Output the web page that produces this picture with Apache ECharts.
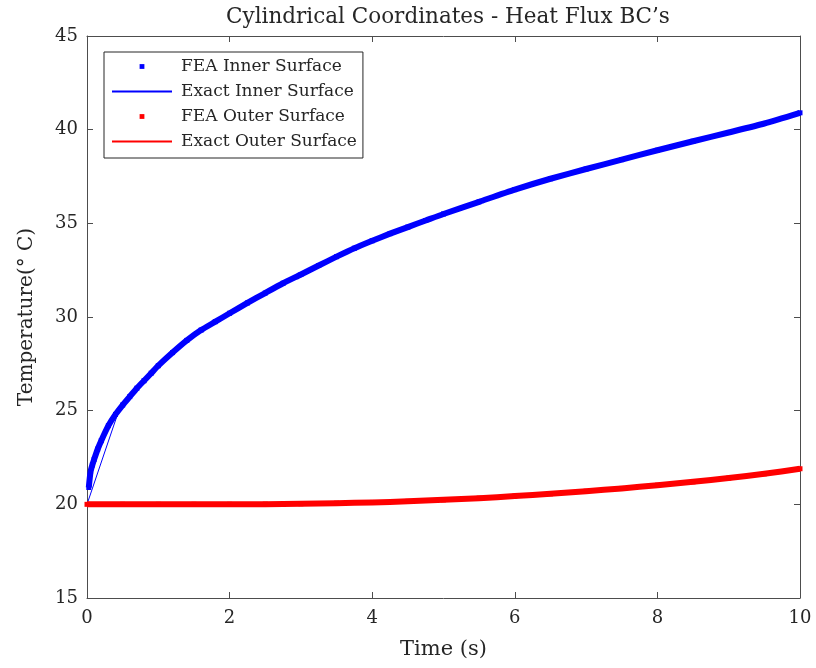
<!DOCTYPE html>
<html>
<head>
<meta charset="utf-8">
<script src="https://cdn.jsdelivr.net/npm/echarts@6/dist/echarts.min.js"></script>
<style>
  html, body { margin: 0; padding: 0; background: #ffffff; }
  #chart { width: 816px; height: 668px; }
</style>
</head>
<body>
<div id="chart"></div>
<script>
// ---- Data ----
const timeFEA = [0.025, 0.05, 0.075, 0.1, 0.15, 0.2, 0.3, 0.4, 0.5, 0.6, 0.7, 0.8, 0.9, 1.0, 1.2, 1.4, 1.6, 1.8, 2.0, 2.25, 2.5, 2.75, 3.0, 3.25, 3.5, 3.75, 4.0, 4.25, 4.5, 4.75, 5.0, 5.5, 6.0, 6.5, 7.0, 7.5, 8.0, 8.5, 9.0, 9.5, 10.0];
const feaInner = [20.9, 21.75, 22.1, 22.4, 22.95, 23.4, 24.2, 24.8, 25.3, 25.75, 26.2, 26.6, 27.0, 27.4, 28.1, 28.75, 29.3, 29.75, 30.2, 30.75, 31.28, 31.8, 32.27, 32.75, 33.22, 33.67, 34.07, 34.45, 34.8, 35.15, 35.5, 36.15, 36.8, 37.38, 37.9, 38.4, 38.9, 39.38, 39.85, 40.33, 40.9];

const timeExact = [0, 0.45, 0.5, 0.6, 0.7, 0.8, 0.9, 1.0, 1.2, 1.4, 1.6, 1.8, 2.0, 2.25, 2.5, 2.75, 3.0, 3.25, 3.5, 3.75, 4.0, 4.25, 4.5, 4.75, 5.0, 5.5, 6.0, 6.5, 7.0, 7.5, 8.0, 8.5, 9.0, 9.5, 10.0];
const exactInner = [20.0, 25.05, 25.3, 25.75, 26.2, 26.6, 27.0, 27.4, 28.1, 28.75, 29.3, 29.75, 30.2, 30.75, 31.28, 31.8, 32.27, 32.75, 33.22, 33.67, 34.07, 34.45, 34.8, 35.15, 35.5, 36.15, 36.8, 37.38, 37.9, 38.4, 38.9, 39.38, 39.85, 40.33, 40.9];

const timeOuter = [0, 0.5, 1.0, 1.5, 2.0, 2.5, 3.0, 3.5, 4.0, 4.5, 5.0, 5.5, 6.0, 6.5, 7.0, 7.5, 8.0, 8.5, 9.0, 9.5, 10.0];
const feaOuter = [20.0, 20.0, 20.0, 20.0, 20.0, 20.01, 20.03, 20.06, 20.1, 20.16, 20.24, 20.33, 20.44, 20.56, 20.7, 20.85, 21.02, 21.2, 21.4, 21.63, 21.9];
const exactOuter = [20.0, 20.0, 20.0, 20.0, 20.0, 20.01, 20.03, 20.06, 20.1, 20.16, 20.24, 20.33, 20.44, 20.56, 20.7, 20.85, 21.02, 21.2, 21.4, 21.63, 21.9];

const seriesNames = ['FEA Inner Surface', 'Exact Inner Surface', 'FEA Outer Surface', 'Exact Outer Surface'];
const titleText = 'Cylindrical Coordinates - Heat Flux BC\u2019s';
const xName = 'Time (s)';
const yName = 'Temperature(\u00B0 C)';

function pairs(xs, ys) { return xs.map((x, i) => [x, ys[i]]); }

const FONT = 'DejaVu Serif';
const INK = '#262626';
const AX = '#4d4d4d';

const chart = echarts.init(document.getElementById('chart'), null, { renderer: 'canvas' });

function makeX(pos, showLabel) {
  return {
    type: 'value', position: pos, min: 0, max: 10, interval: 2,
    name: showLabel ? xName : '', nameLocation: 'middle', nameGap: 41,
    nameTextStyle: { fontFamily: FONT, fontSize: 21, color: INK },
    axisLine: { show: true, onZero: false, lineStyle: { color: AX, width: 1 } },
    axisTick: { show: true, inside: true, length: 6, lineStyle: { color: AX } },
    axisLabel: { show: showLabel, fontFamily: FONT, fontSize: 18, color: INK, margin: 11 },
    splitLine: { show: false }
  };
}
function makeY(pos, showLabel) {
  return {
    type: 'value', position: pos, min: 15, max: 45, interval: 5,
    name: showLabel ? yName : '', nameLocation: 'middle', nameGap: 50,
    nameTextStyle: { fontFamily: FONT, fontSize: 20, color: INK },
    axisLine: { show: true, onZero: false, lineStyle: { color: AX, width: 1 } },
    axisTick: { show: true, inside: true, length: 6, lineStyle: { color: AX } },
    axisLabel: { show: showLabel, fontFamily: FONT, fontSize: 18, color: INK, margin: 9 },
    splitLine: { show: false }
  };
}

const option = {
  backgroundColor: '#ffffff',
  animation: false,
  title: {
    text: titleText, left: 443, top: 1, textAlign: 'center',
    textStyle: { fontFamily: FONT, fontSize: 21.5, fontWeight: 'normal', color: INK }
  },
  grid: { left: 87, right: 16, top: 36, bottom: 70, containLabel: false },
  xAxis: [makeX('bottom', true), makeX('top', false)],
  yAxis: [makeY('left', true), makeY('right', false)],
  legend: {
    orient: 'vertical', left: 104, top: 52,
    padding: [5, 6, 7, 7], itemGap: 6, itemWidth: 60, itemHeight: 6,
    backgroundColor: '#ffffff', borderColor: INK, borderWidth: 1, borderRadius: 0,
    textStyle: { fontFamily: FONT, fontSize: 17, color: INK, lineHeight: 19, padding: [0, 0, 0, 4] },
    data: [
      { name: seriesNames[0], lineStyle: { opacity: 0 } },
      { name: seriesNames[1], itemStyle: { opacity: 0 } },
      { name: seriesNames[2], lineStyle: { opacity: 0 } },
      { name: seriesNames[3], itemStyle: { opacity: 0 } }
    ]
  },
  series: [
    {
      name: seriesNames[0], type: 'line', xAxisIndex: 0, yAxisIndex: 0,
      data: pairs(timeFEA, feaInner),
      symbol: 'rect', symbolSize: 5, showSymbol: true, showAllSymbol: true,
      itemStyle: { color: '#0000ff' },
      lineStyle: { color: '#0000ff', width: 6, join: 'round' }, smooth: 0.2
    },
    {
      name: seriesNames[1], type: 'line', xAxisIndex: 0, yAxisIndex: 0,
      data: pairs(timeExact, exactInner),
      symbol: 'none', itemStyle: { color: '#0000ff' },
      lineStyle: { color: '#0000ff', width: 1 }
    },
    {
      name: seriesNames[2], type: 'line', xAxisIndex: 0, yAxisIndex: 0,
      data: pairs(timeOuter, feaOuter),
      symbol: 'rect', symbolSize: 5, showSymbol: true, showAllSymbol: true,
      itemStyle: { color: '#ff0000' },
      lineStyle: { color: '#ff0000', width: 6, join: 'round' }, smooth: 0.2
    },
    {
      name: seriesNames[3], type: 'line', xAxisIndex: 0, yAxisIndex: 0,
      data: pairs(timeOuter, exactOuter),
      symbol: 'none', itemStyle: { color: '#ff0000' },
      lineStyle: { color: '#ff0000', width: 1 }
    }
  ]
};
chart.setOption(option);
</script>
</body>
</html>
